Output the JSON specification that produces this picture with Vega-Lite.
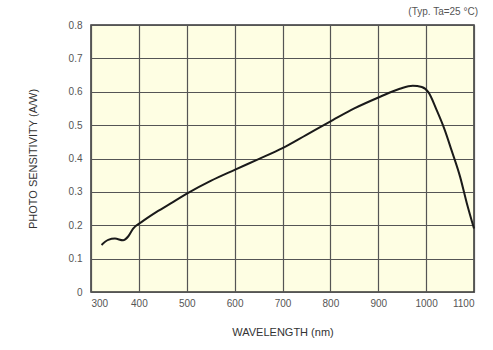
{
  "$schema": "https://vega.github.io/schema/vega-lite/v6.json",
  "width": 383,
  "height": 267,
  "autosize": "none",
  "padding": {"left": 91, "top": 25, "right": 19, "bottom": 58},
  "background": "white",
  "title": {
    "text": "(Typ. Ta=25 °C)",
    "anchor": "end",
    "orient": "top",
    "fontSize": 10,
    "fontWeight": "normal",
    "font": "Liberation Sans",
    "color": "#555",
    "offset": 3
  },
  "config": {
    "view": {"fill": "#fefee3", "stroke": "#333", "strokeWidth": 1.5},
    "axis": {
      "labelFont": "Liberation Sans",
      "titleFont": "Liberation Sans",
      "labelColor": "#555",
      "titleColor": "#333",
      "labelFontSize": 10,
      "titleFontSize": 11,
      "titleFontWeight": "normal",
      "grid": true,
      "gridColor": "#555",
      "gridWidth": 1.2,
      "gridOpacity": 1,
      "ticks": false,
      "domain": false
    }
  },
  "data": {
    "values": [
      {"wavelength": 322, "sensitivity": 0.141},
      {"wavelength": 336, "sensitivity": 0.156},
      {"wavelength": 350, "sensitivity": 0.160},
      {"wavelength": 367, "sensitivity": 0.155},
      {"wavelength": 378, "sensitivity": 0.167},
      {"wavelength": 388, "sensitivity": 0.190},
      {"wavelength": 406, "sensitivity": 0.210},
      {"wavelength": 437, "sensitivity": 0.240},
      {"wavelength": 472, "sensitivity": 0.270},
      {"wavelength": 503, "sensitivity": 0.297},
      {"wavelength": 550, "sensitivity": 0.333},
      {"wavelength": 600, "sensitivity": 0.366},
      {"wavelength": 650, "sensitivity": 0.398},
      {"wavelength": 700, "sensitivity": 0.431},
      {"wavelength": 750, "sensitivity": 0.471},
      {"wavelength": 805, "sensitivity": 0.515},
      {"wavelength": 850, "sensitivity": 0.550},
      {"wavelength": 904, "sensitivity": 0.585},
      {"wavelength": 945, "sensitivity": 0.609},
      {"wavelength": 972, "sensitivity": 0.618},
      {"wavelength": 991, "sensitivity": 0.614},
      {"wavelength": 1005, "sensitivity": 0.598},
      {"wavelength": 1022, "sensitivity": 0.545},
      {"wavelength": 1039, "sensitivity": 0.485},
      {"wavelength": 1053, "sensitivity": 0.425},
      {"wavelength": 1071, "sensitivity": 0.345},
      {"wavelength": 1085, "sensitivity": 0.266},
      {"wavelength": 1100, "sensitivity": 0.190}
    ]
  },
  "mark": {"type": "line", "color": "#1a1a1a", "strokeWidth": 2, "interpolate": "monotone"},
  "encoding": {
    "x": {
      "field": "wavelength",
      "type": "quantitative",
      "scale": {"domain": [300, 1100], "nice": false},
      "axis": {"values": [300, 400, 500, 600, 700, 800, 900, 1000, 1100], "format": "d", "title": "WAVELENGTH (nm)", "labelPadding": 6, "titlePadding": 18}
    },
    "y": {
      "field": "sensitivity",
      "type": "quantitative",
      "scale": {"domain": [0, 0.8], "nice": false},
      "axis": {
        "values": [0, 0.1, 0.2, 0.3, 0.4, 0.5, 0.6, 0.7, 0.8],
        "labelExpr": "datum.value == 0 ? '0' : format(datum.value, '.1f')",
        "title": "PHOTO SENSITIVITY (A/W)",
        "labelPadding": 9,
        "titlePadding": 30
      }
    }
  }
}
